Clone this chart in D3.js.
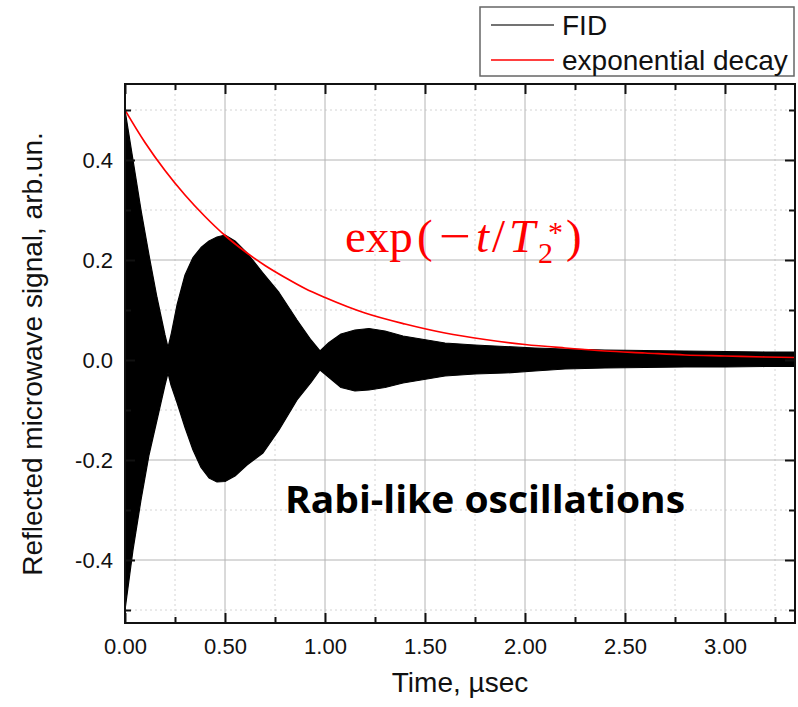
<!DOCTYPE html>
<html>
<head>
<meta charset="utf-8">
<script src="https://cdn.jsdelivr.net/npm/d3@7"></script>
<style>
    body { margin: 0; background: #fff; }
</style>
</head>
<body>
<script>
// FID signal envelope (upper / lower edge of the fast oscillation)
let fidTime  = [0, 0.04, 0.08, 0.12, 0.16, 0.20, 0.215, 0.23, 0.26, 0.30, 0.34, 0.38, 0.42, 0.46, 0.50, 0.55, 0.61, 0.69, 0.77, 0.86, 0.93, 0.975, 1.02, 1.08, 1.15, 1.22, 1.30, 1.39, 1.48, 1.60, 1.75, 1.90, 2.05, 2.20, 2.40, 2.60, 2.80, 3.00, 3.20, 3.35];
let fidUpper = [0.50, 0.40, 0.30, 0.21, 0.125, 0.05, 0.025, 0.05, 0.11, 0.17, 0.205, 0.225, 0.238, 0.246, 0.25, 0.238, 0.214, 0.174, 0.135, 0.08, 0.04, 0.018, 0.035, 0.052, 0.060, 0.063, 0.058, 0.048, 0.042, 0.034, 0.030, 0.027, 0.024, 0.022, 0.020, 0.019, 0.018, 0.017, 0.016, 0.016];
let fidLower = [-0.50, -0.38, -0.28, -0.19, -0.12, -0.05, -0.026, -0.05, -0.085, -0.135, -0.18, -0.215, -0.236, -0.244, -0.243, -0.232, -0.21, -0.186, -0.14, -0.08, -0.045, -0.02, -0.035, -0.055, -0.062, -0.06, -0.055, -0.046, -0.040, -0.032, -0.028, -0.026, -0.022, -0.018, -0.016, -0.015, -0.014, -0.014, -0.013, -0.013];

// exponential decay curve
let expTime  = [0, 0.1, 0.2, 0.3, 0.4, 0.5, 0.6, 0.7, 0.8, 0.9, 1.0, 1.2, 1.4, 1.6, 1.8, 2.0, 2.2, 2.4, 2.6, 2.8, 3.0, 3.2, 3.35];
let expValue = [0.50, 0.435, 0.379, 0.330, 0.287, 0.249, 0.217, 0.189, 0.165, 0.143, 0.125, 0.094, 0.072, 0.054, 0.041, 0.031, 0.024, 0.018, 0.014, 0.010, 0.008, 0.006, 0.005];

let xTicks = [0, 0.5, 1.0, 1.5, 2.0, 2.5, 3.0];
let xMinorTicks = [0.25, 0.75, 1.25, 1.75, 2.25, 2.75, 3.25];
let yTicks = [-0.4, -0.2, 0.0, 0.2, 0.4];
let yMinorTicks = [-0.5, -0.3, -0.1, 0.1, 0.3, 0.5];

let legendLabels = ["FID", "exponential decay"];
let legendColors = ["#444", "#ff0000"];

let width = 798,
    height = 707,
    plotLeft = 125,
    plotRight = 795,
    plotTop = 84,
    plotBottom = 623;

let sans = "'Liberation Sans', Arial, sans-serif";

let x = d3.scaleLinear().domain([0, 3.35]).range([plotLeft, plotRight]);
let y = d3.scaleLinear().domain([-0.526, 0.552]).range([plotBottom, plotTop]);

let svg = d3.select("body").append("svg")
    .attr("width", width)
    .attr("height", height)
    .style("font-family", sans);

// grid
svg.append("g").selectAll("line")
    .data(xMinorTicks)
    .enter().append("line")
    .attr("x1", function(d) { return x(d); })
    .attr("x2", function(d) { return x(d); })
    .attr("y1", plotTop).attr("y2", plotBottom)
    .attr("stroke", "#d4d4d4").attr("stroke-dasharray", "2,3");

svg.append("g").selectAll("line")
    .data(yMinorTicks)
    .enter().append("line")
    .attr("y1", function(d) { return y(d); })
    .attr("y2", function(d) { return y(d); })
    .attr("x1", plotLeft).attr("x2", plotRight)
    .attr("stroke", "#d4d4d4").attr("stroke-dasharray", "2,3");

svg.append("g").selectAll("line")
    .data(xTicks.slice(1))
    .enter().append("line")
    .attr("x1", function(d) { return x(d); })
    .attr("x2", function(d) { return x(d); })
    .attr("y1", plotTop).attr("y2", plotBottom)
    .attr("stroke", "#b4b4b4");

svg.append("g").selectAll("line")
    .data(yTicks)
    .enter().append("line")
    .attr("y1", function(d) { return y(d); })
    .attr("y2", function(d) { return y(d); })
    .attr("x1", plotLeft).attr("x2", plotRight)
    .attr("stroke", "#b4b4b4");

// FID band
let fid = fidTime.map(function(t, i) { return {t: t, hi: fidUpper[i], lo: fidLower[i]}; });

svg.append("path")
    .datum(fid)
    .attr("fill", "#000")
    .attr("stroke", "#000")
    .attr("stroke-width", 1.2)
    .attr("stroke-linejoin", "round")
    .attr("d", d3.area()
        .x(function(d) { return x(d.t); })
        .y0(function(d) { return y(d.lo); })
        .y1(function(d) { return y(d.hi); }));

// exponential decay
let decay = expTime.map(function(t, i) { return {t: t, v: expValue[i]}; });

svg.append("path")
    .datum(decay)
    .attr("fill", "none")
    .attr("stroke", "#ff0000")
    .attr("stroke-width", 1.7)
    .attr("d", d3.line()
        .x(function(d) { return x(d.t); })
        .y(function(d) { return y(d.v); })
        .curve(d3.curveMonotoneX));

// axes, ticks pointing inward
let fmtX = function(d) { return d.toFixed(2); };
let fmtY = function(d) { return d.toFixed(1); };

svg.append("g")
    .attr("transform", "translate(0," + plotBottom + ")")
    .call(d3.axisBottom(x).tickValues(xTicks).tickSize(-10).tickPadding(15).tickFormat(fmtX));
svg.append("g")
    .attr("transform", "translate(0," + plotBottom + ")")
    .call(d3.axisBottom(x).tickValues(xMinorTicks).tickSize(-6).tickFormat(""));
svg.append("g")
    .attr("transform", "translate(0," + plotTop + ")")
    .call(d3.axisTop(x).tickValues(xTicks).tickSize(-10).tickFormat(""));
svg.append("g")
    .attr("transform", "translate(0," + plotTop + ")")
    .call(d3.axisTop(x).tickValues(xMinorTicks).tickSize(-6).tickFormat(""));

svg.append("g")
    .attr("transform", "translate(" + plotLeft + ",0)")
    .call(d3.axisLeft(y).tickValues(yTicks).tickSize(-10).tickPadding(12).tickFormat(fmtY));
svg.append("g")
    .attr("transform", "translate(" + plotLeft + ",0)")
    .call(d3.axisLeft(y).tickValues(yMinorTicks).tickSize(-6).tickFormat(""));
svg.append("g")
    .attr("transform", "translate(" + plotRight + ",0)")
    .call(d3.axisRight(y).tickValues(yTicks).tickSize(-10).tickFormat(""));
svg.append("g")
    .attr("transform", "translate(" + plotRight + ",0)")
    .call(d3.axisRight(y).tickValues(yMinorTicks).tickSize(-6).tickFormat(""));

svg.selectAll(".domain").remove();
svg.selectAll(".tick line").attr("stroke", "#111").attr("stroke-width", 2);
svg.selectAll(".tick text")
    .style("font-family", sans)
    .style("font-size", "22px")
    .attr("fill", "#111");

// frame
svg.append("rect")
    .attr("x", plotLeft).attr("y", plotTop)
    .attr("width", plotRight - plotLeft).attr("height", plotBottom - plotTop)
    .attr("fill", "none")
    .attr("stroke", "#111")
    .attr("stroke-width", 2);

// axis titles
svg.append("text")
    .attr("x", 460).attr("y", 692)
    .attr("text-anchor", "middle")
    .attr("fill", "#111")
    .style("font-size", "28px")
    .text("Time, \u00b5sec");

svg.append("text")
    .attr("transform", "translate(42,354) rotate(-90)")
    .attr("text-anchor", "middle")
    .attr("fill", "#111")
    .style("font-size", "28px")
    .text("Reflected microwave signal, arb.un.");

// legend
let legend = svg.append("g");
legend.append("rect")
    .attr("x", 480).attr("y", 7)
    .attr("width", 314).attr("height", 69)
    .attr("fill", "#fff")
    .attr("stroke", "#666")
    .attr("stroke-width", 1.5);

let item = legend.selectAll("g")
    .data(legendLabels)
    .enter().append("g")
    .attr("transform", function(d, i) { return "translate(0," + (25 + i * 35) + ")"; });

item.append("line")
    .attr("x1", 491).attr("x2", 554)
    .attr("stroke", function(d, i) { return legendColors[i]; })
    .attr("stroke-width", 1.5);

item.append("text")
    .attr("x", 562).attr("dy", "0.35em")
    .attr("fill", "#111")
    .style("font-size", "28px")
    .text(function(d) { return d; });

// annotation: exp(-t/T2*) set glyph by glyph like the math typesetting
let formula = svg.append("text")
    .attr("y", 252)
    .attr("fill", "#ff0000")
    .style("font-family", "'Liberation Serif', 'DejaVu Serif', serif")
    .style("font-size", "47px");
formula.append("tspan").attr("x", 345).text("exp");
formula.append("tspan").attr("x", 417).text("(");
formula.append("tspan").attr("x", 439).attr("textLength", 32).attr("lengthAdjust", "spacingAndGlyphs").text("\u2212");
formula.append("tspan").attr("x", 476).style("font-style", "italic").text("t");
formula.append("tspan").attr("x", 492).text("/");
formula.append("tspan").attr("x", 509).style("font-style", "italic").text("T");
formula.append("tspan").attr("x", 538).attr("y", 263).style("font-size", "30px").text("2");
formula.append("tspan").attr("x", 548).attr("y", 242).style("font-size", "30px").text("*");
formula.append("tspan").attr("x", 566).attr("y", 252).text(")");

svg.append("text")
    .attr("x", 285).attr("y", 513)
    .attr("fill", "#000")
    .style("font-family", "'Open Sans', Lato, sans-serif")
    .style("font-weight", 700)
    .style("font-size", "38px")
    .attr("textLength", 400)
    .attr("lengthAdjust", "spacingAndGlyphs")
    .text("Rabi-like oscillations");
</script>
</body>
</html>
